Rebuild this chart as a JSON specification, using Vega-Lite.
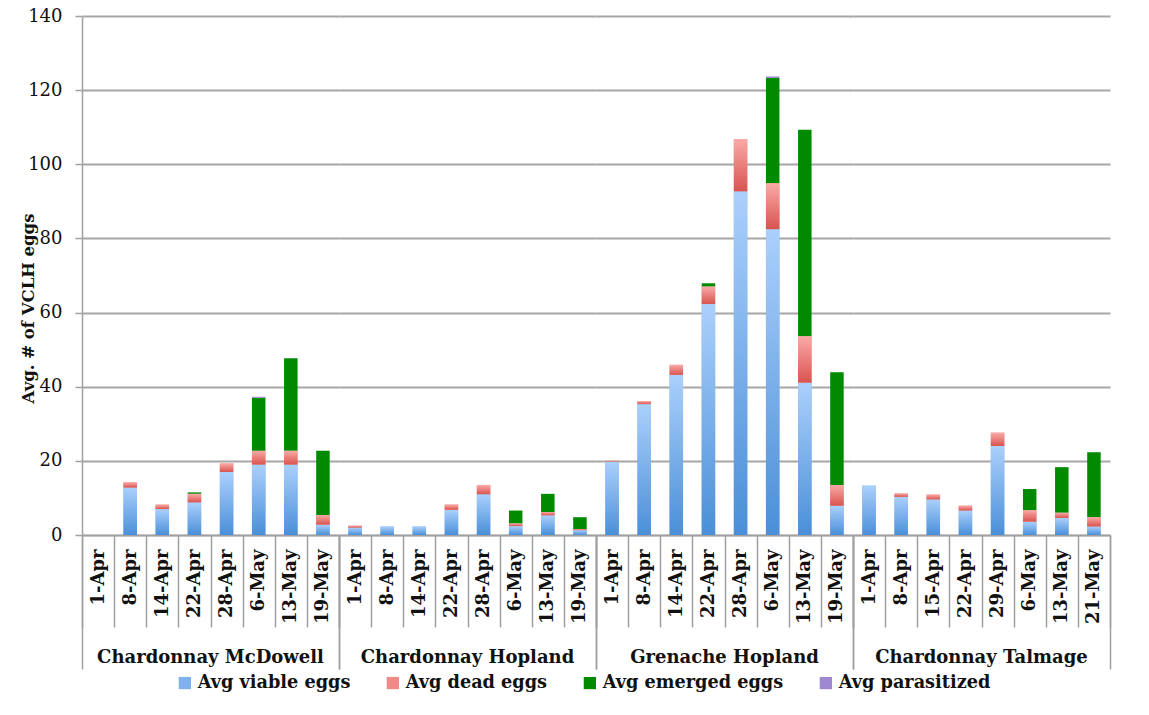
{
  "$schema": "https://vega.github.io/schema/vega-lite/v6.json",
  "background": "white",
  "padding": {"left": 20, "top": 7, "right": 5, "bottom": 5},
  "bounds": "flush",
  "config": {
    "view": {"stroke": null},
    "font": "DejaVu Serif"
  },
  "data": {"values": [
    {"s": "Chardonnay McDowell", "d": "1-Apr", "di": 1, "t": "Avg viable eggs", "o": 1, "v": 0},
    {"s": "Chardonnay McDowell", "d": "8-Apr", "di": 2, "t": "Avg viable eggs", "o": 1, "v": 12.8},
    {"s": "Chardonnay McDowell", "d": "8-Apr", "di": 2, "t": "Avg dead eggs", "o": 2, "v": 1.4},
    {"s": "Chardonnay McDowell", "d": "14-Apr", "di": 3, "t": "Avg viable eggs", "o": 1, "v": 7.0},
    {"s": "Chardonnay McDowell", "d": "14-Apr", "di": 3, "t": "Avg dead eggs", "o": 2, "v": 1.2},
    {"s": "Chardonnay McDowell", "d": "22-Apr", "di": 4, "t": "Avg viable eggs", "o": 1, "v": 8.8},
    {"s": "Chardonnay McDowell", "d": "22-Apr", "di": 4, "t": "Avg dead eggs", "o": 2, "v": 2.3},
    {"s": "Chardonnay McDowell", "d": "22-Apr", "di": 4, "t": "Avg emerged eggs", "o": 3, "v": 0.4},
    {"s": "Chardonnay McDowell", "d": "28-Apr", "di": 5, "t": "Avg viable eggs", "o": 1, "v": 17.0},
    {"s": "Chardonnay McDowell", "d": "28-Apr", "di": 5, "t": "Avg dead eggs", "o": 2, "v": 2.3},
    {"s": "Chardonnay McDowell", "d": "6-May", "di": 6, "t": "Avg viable eggs", "o": 1, "v": 19.0},
    {"s": "Chardonnay McDowell", "d": "6-May", "di": 6, "t": "Avg dead eggs", "o": 2, "v": 3.7},
    {"s": "Chardonnay McDowell", "d": "6-May", "di": 6, "t": "Avg emerged eggs", "o": 3, "v": 14.3},
    {"s": "Chardonnay McDowell", "d": "6-May", "di": 6, "t": "Avg parasitized", "o": 4, "v": 0.3},
    {"s": "Chardonnay McDowell", "d": "13-May", "di": 7, "t": "Avg viable eggs", "o": 1, "v": 19.0},
    {"s": "Chardonnay McDowell", "d": "13-May", "di": 7, "t": "Avg dead eggs", "o": 2, "v": 3.7},
    {"s": "Chardonnay McDowell", "d": "13-May", "di": 7, "t": "Avg emerged eggs", "o": 3, "v": 25.0},
    {"s": "Chardonnay McDowell", "d": "19-May", "di": 8, "t": "Avg viable eggs", "o": 1, "v": 2.8},
    {"s": "Chardonnay McDowell", "d": "19-May", "di": 8, "t": "Avg dead eggs", "o": 2, "v": 2.6},
    {"s": "Chardonnay McDowell", "d": "19-May", "di": 8, "t": "Avg emerged eggs", "o": 3, "v": 17.3},

    {"s": "Chardonnay Hopland", "d": "1-Apr", "di": 1, "t": "Avg viable eggs", "o": 1, "v": 2.0},
    {"s": "Chardonnay Hopland", "d": "1-Apr", "di": 1, "t": "Avg dead eggs", "o": 2, "v": 0.5},
    {"s": "Chardonnay Hopland", "d": "8-Apr", "di": 2, "t": "Avg viable eggs", "o": 1, "v": 2.3},
    {"s": "Chardonnay Hopland", "d": "14-Apr", "di": 3, "t": "Avg viable eggs", "o": 1, "v": 2.3},
    {"s": "Chardonnay Hopland", "d": "22-Apr", "di": 4, "t": "Avg viable eggs", "o": 1, "v": 6.8},
    {"s": "Chardonnay Hopland", "d": "22-Apr", "di": 4, "t": "Avg dead eggs", "o": 2, "v": 1.4},
    {"s": "Chardonnay Hopland", "d": "28-Apr", "di": 5, "t": "Avg viable eggs", "o": 1, "v": 11.0},
    {"s": "Chardonnay Hopland", "d": "28-Apr", "di": 5, "t": "Avg dead eggs", "o": 2, "v": 2.5},
    {"s": "Chardonnay Hopland", "d": "6-May", "di": 6, "t": "Avg viable eggs", "o": 1, "v": 2.4},
    {"s": "Chardonnay Hopland", "d": "6-May", "di": 6, "t": "Avg dead eggs", "o": 2, "v": 0.7},
    {"s": "Chardonnay Hopland", "d": "6-May", "di": 6, "t": "Avg emerged eggs", "o": 3, "v": 3.5},
    {"s": "Chardonnay Hopland", "d": "13-May", "di": 7, "t": "Avg viable eggs", "o": 1, "v": 5.3},
    {"s": "Chardonnay Hopland", "d": "13-May", "di": 7, "t": "Avg dead eggs", "o": 2, "v": 0.9},
    {"s": "Chardonnay Hopland", "d": "13-May", "di": 7, "t": "Avg emerged eggs", "o": 3, "v": 4.9},
    {"s": "Chardonnay Hopland", "d": "19-May", "di": 8, "t": "Avg viable eggs", "o": 1, "v": 1.3},
    {"s": "Chardonnay Hopland", "d": "19-May", "di": 8, "t": "Avg dead eggs", "o": 2, "v": 0.3},
    {"s": "Chardonnay Hopland", "d": "19-May", "di": 8, "t": "Avg emerged eggs", "o": 3, "v": 3.2},

    {"s": "Grenache Hopland", "d": "1-Apr", "di": 1, "t": "Avg viable eggs", "o": 1, "v": 19.8},
    {"s": "Grenache Hopland", "d": "1-Apr", "di": 1, "t": "Avg dead eggs", "o": 2, "v": 0.2},
    {"s": "Grenache Hopland", "d": "8-Apr", "di": 2, "t": "Avg viable eggs", "o": 1, "v": 35.3},
    {"s": "Grenache Hopland", "d": "8-Apr", "di": 2, "t": "Avg dead eggs", "o": 2, "v": 0.8},
    {"s": "Grenache Hopland", "d": "14-Apr", "di": 3, "t": "Avg viable eggs", "o": 1, "v": 43.2},
    {"s": "Grenache Hopland", "d": "14-Apr", "di": 3, "t": "Avg dead eggs", "o": 2, "v": 2.7},
    {"s": "Grenache Hopland", "d": "22-Apr", "di": 4, "t": "Avg viable eggs", "o": 1, "v": 62.3},
    {"s": "Grenache Hopland", "d": "22-Apr", "di": 4, "t": "Avg dead eggs", "o": 2, "v": 4.7},
    {"s": "Grenache Hopland", "d": "22-Apr", "di": 4, "t": "Avg emerged eggs", "o": 3, "v": 0.9},
    {"s": "Grenache Hopland", "d": "28-Apr", "di": 5, "t": "Avg viable eggs", "o": 1, "v": 92.7},
    {"s": "Grenache Hopland", "d": "28-Apr", "di": 5, "t": "Avg dead eggs", "o": 2, "v": 14.1},
    {"s": "Grenache Hopland", "d": "6-May", "di": 6, "t": "Avg viable eggs", "o": 1, "v": 82.5},
    {"s": "Grenache Hopland", "d": "6-May", "di": 6, "t": "Avg dead eggs", "o": 2, "v": 12.4},
    {"s": "Grenache Hopland", "d": "6-May", "di": 6, "t": "Avg emerged eggs", "o": 3, "v": 28.4},
    {"s": "Grenache Hopland", "d": "6-May", "di": 6, "t": "Avg parasitized", "o": 4, "v": 0.4},
    {"s": "Grenache Hopland", "d": "13-May", "di": 7, "t": "Avg viable eggs", "o": 1, "v": 41.1},
    {"s": "Grenache Hopland", "d": "13-May", "di": 7, "t": "Avg dead eggs", "o": 2, "v": 12.5},
    {"s": "Grenache Hopland", "d": "13-May", "di": 7, "t": "Avg emerged eggs", "o": 3, "v": 55.7},
    {"s": "Grenache Hopland", "d": "19-May", "di": 8, "t": "Avg viable eggs", "o": 1, "v": 7.9},
    {"s": "Grenache Hopland", "d": "19-May", "di": 8, "t": "Avg dead eggs", "o": 2, "v": 5.6},
    {"s": "Grenache Hopland", "d": "19-May", "di": 8, "t": "Avg emerged eggs", "o": 3, "v": 30.4},

    {"s": "Chardonnay Talmage", "d": "1-Apr", "di": 1, "t": "Avg viable eggs", "o": 1, "v": 13.3},
    {"s": "Chardonnay Talmage", "d": "8-Apr", "di": 2, "t": "Avg viable eggs", "o": 1, "v": 10.3},
    {"s": "Chardonnay Talmage", "d": "8-Apr", "di": 2, "t": "Avg dead eggs", "o": 2, "v": 0.9},
    {"s": "Chardonnay Talmage", "d": "15-Apr", "di": 3, "t": "Avg viable eggs", "o": 1, "v": 9.6},
    {"s": "Chardonnay Talmage", "d": "15-Apr", "di": 3, "t": "Avg dead eggs", "o": 2, "v": 1.3},
    {"s": "Chardonnay Talmage", "d": "22-Apr", "di": 4, "t": "Avg viable eggs", "o": 1, "v": 6.6},
    {"s": "Chardonnay Talmage", "d": "22-Apr", "di": 4, "t": "Avg dead eggs", "o": 2, "v": 1.3},
    {"s": "Chardonnay Talmage", "d": "29-Apr", "di": 5, "t": "Avg viable eggs", "o": 1, "v": 24.0},
    {"s": "Chardonnay Talmage", "d": "29-Apr", "di": 5, "t": "Avg dead eggs", "o": 2, "v": 3.6},
    {"s": "Chardonnay Talmage", "d": "6-May", "di": 6, "t": "Avg viable eggs", "o": 1, "v": 3.6},
    {"s": "Chardonnay Talmage", "d": "6-May", "di": 6, "t": "Avg dead eggs", "o": 2, "v": 3.1},
    {"s": "Chardonnay Talmage", "d": "6-May", "di": 6, "t": "Avg emerged eggs", "o": 3, "v": 5.7},
    {"s": "Chardonnay Talmage", "d": "13-May", "di": 7, "t": "Avg viable eggs", "o": 1, "v": 4.6},
    {"s": "Chardonnay Talmage", "d": "13-May", "di": 7, "t": "Avg dead eggs", "o": 2, "v": 1.4},
    {"s": "Chardonnay Talmage", "d": "13-May", "di": 7, "t": "Avg emerged eggs", "o": 3, "v": 12.3},
    {"s": "Chardonnay Talmage", "d": "21-May", "di": 8, "t": "Avg viable eggs", "o": 1, "v": 2.3},
    {"s": "Chardonnay Talmage", "d": "21-May", "di": 8, "t": "Avg dead eggs", "o": 2, "v": 2.5},
    {"s": "Chardonnay Talmage", "d": "21-May", "di": 8, "t": "Avg emerged eggs", "o": 3, "v": 17.5}
  ]},
  "transform": [
    {"stack": "v", "groupby": ["s", "d"], "sort": [{"field": "o", "order": "ascending"}], "as": ["y0", "y1"]}
  ],
  "facet": {
    "column": {
      "field": "s",
      "type": "nominal",
      "sort": ["Chardonnay McDowell", "Chardonnay Hopland", "Grenache Hopland", "Chardonnay Talmage"],
      "header": {
        "title": null,
        "labelOrient": "bottom",
        "labelFont": "DejaVu Serif",
        "labelFontWeight": "bold",
        "labelFontSize": 18,
        "labelColor": "#111",
        "labelPadding": 114
      }
    }
  },
  "spacing": 0,
  "resolve": {"scale": {"x": "independent"}},
  "spec": {
    "width": 257,
    "height": 519,
    "resolve": {"scale": {"x": "independent"}, "axis": {"x": "independent"}},
    "layer": [
      {
        "encoding": {
          "x": {
            "field": "d",
            "type": "nominal",
            "sort": {"field": "di", "op": "min"},
            "scale": {"paddingInner": 0, "paddingOuter": 0},
            "axis": {
              "orient": "bottom",
              "title": null,
              "labelAngle": -90,
              "labelFont": "DejaVu Serif",
              "labelFontWeight": "bold",
              "labelFontSize": 18,
              "labelColor": "#111",
              "labelPadding": -78,
              "tickBand": "extent",
              "tickSize": 92,
              "tickColor": "#a0a0a0",
              "tickWidth": 1.5,
              "domainColor": "#a0a0a0",
              "domainWidth": 1.5
            }
          },
          "y": {
            "field": "y0",
            "type": "quantitative",
            "scale": {"domain": [0, 140], "nice": false},
            "axis": {
              "title": "Avg. # of VCLH eggs",
              "titleFont": "DejaVu Serif",
              "titleFontWeight": "bold",
              "titleFontSize": 16.5,
              "titleColor": "#111",
              "titleX": -46,
              "titleY": 292,
              "values": [0, 20, 40, 60, 80, 100, 120, 140],
              "labelFont": "DejaVu Serif",
              "labelFontSize": 18,
              "labelColor": "#111",
              "labelPadding": 13,
              "tickSize": 7,
              "tickColor": "#a0a0a0",
              "tickWidth": 1.5,
              "domainColor": "#a0a0a0",
              "domainWidth": 1.5,
              "grid": true,
              "gridColor": "#a6a6a6",
              "gridWidth": 1.8
            }
          },
          "y2": {"field": "y1"}
        },
        "layer": [
          {
            "mark": {"type": "bar", "width": {"band": 0.42}},
            "encoding": {
              "color": {
                "field": "t",
                "type": "nominal",
                "scale": {
                  "domain": ["Avg viable eggs", "Avg dead eggs", "Avg emerged eggs", "Avg parasitized"],
                  "range": ["#7fb1ec", "#f08a86", "#008a00", "#9d88cf"]
                },
                "legend": {
                  "title": null,
                  "orient": "none",
                  "legendX": 94,
                  "legendY": 658,
                  "direction": "horizontal",
                  "symbolType": "square",
                  "symbolSize": 150,
                  "symbolStrokeWidth": 0,
                  "labelFont": "DejaVu Serif",
                  "labelFontWeight": "bold",
                  "labelFontSize": 17.7,
                  "labelColor": "#111",
                  "columnPadding": 33,
                  "labelLimit": 300
                }
              }
            }
          },
          {
            "transform": [{"filter": "datum.o === 1"}],
            "mark": {"type": "bar", "width": {"band": 0.42},
              "fill": {"gradient": "linear", "x1": 0, "y1": 0, "x2": 0, "y2": 1, "stops": [{"offset": 0, "color": "#abd0fc"}, {"offset": 1, "color": "#4a8fd8"}]}}
          },
          {
            "transform": [{"filter": "datum.o === 2"}],
            "mark": {"type": "bar", "width": {"band": 0.42},
              "fill": {"gradient": "linear", "x1": 0, "y1": 0, "x2": 0, "y2": 1, "stops": [{"offset": 0, "color": "#f9aaa7"}, {"offset": 1, "color": "#d9544f"}]}}
          }
        ]
      },
      {
        "mark": {"type": "rule", "opacity": 0},
        "encoding": {
          "x": {
            "field": "s",
            "type": "nominal",
            "scale": {"paddingInner": 0, "paddingOuter": 0},
            "axis": {
              "orient": "bottom",
              "title": null,
              "labels": false,
              "domain": false,
              "tickBand": "extent",
              "tickSize": 134,
              "tickColor": "#a0a0a0",
              "tickWidth": 1.5
            }
          }
        }
      }
    ]
  }
}
